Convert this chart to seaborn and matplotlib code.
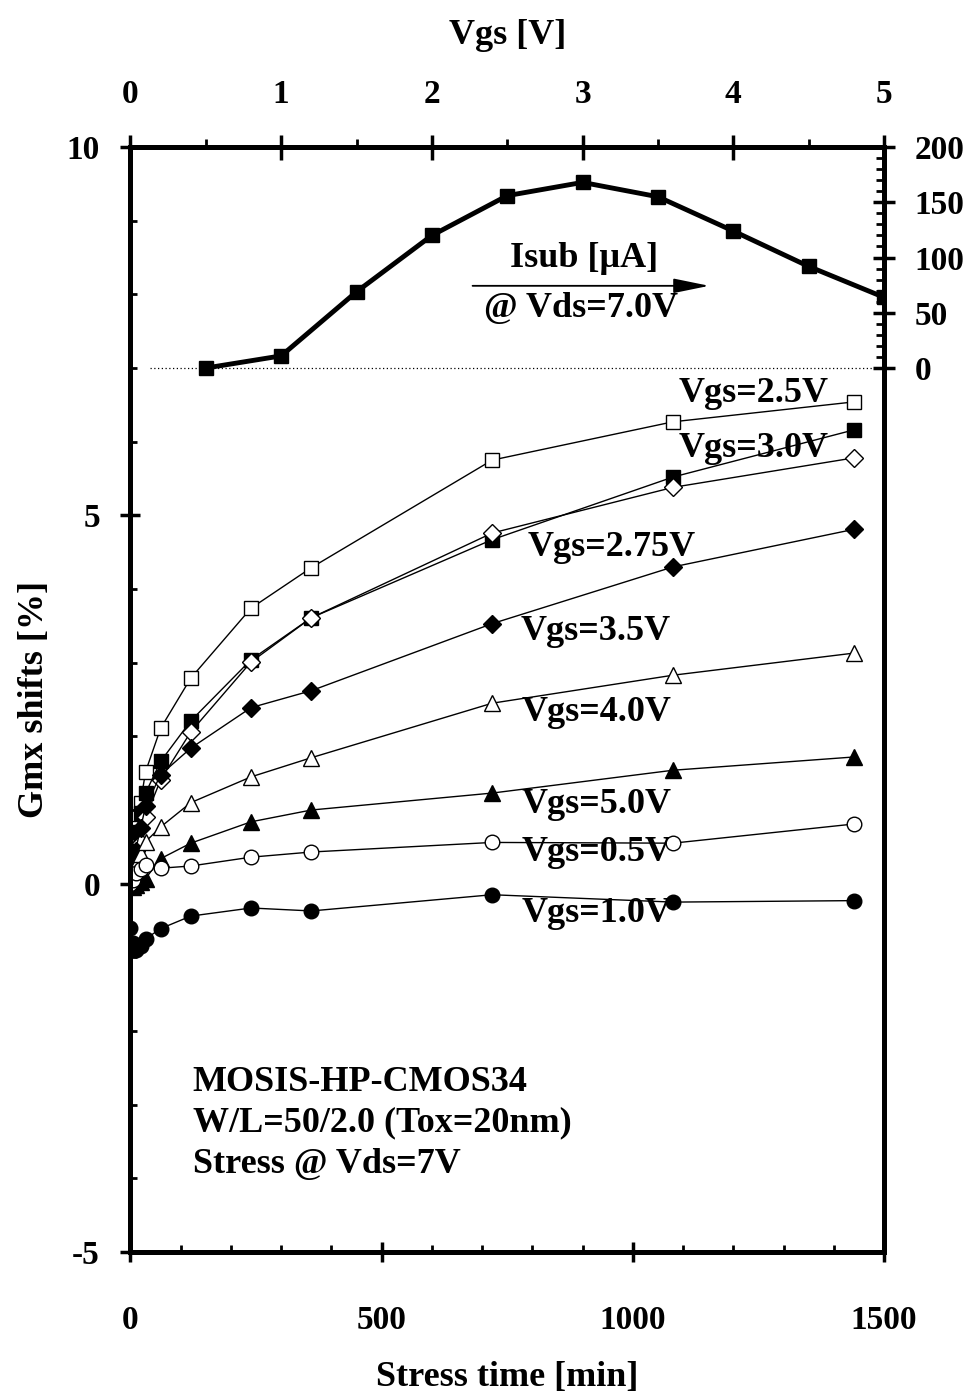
import matplotlib
matplotlib.use("Agg")
import matplotlib.pyplot as plt
from matplotlib.ticker import FixedLocator, MultipleLocator
import seaborn as sns

# ---- data -------------------------------------------------------------
stress_time = [0, 5, 10, 20, 30, 60, 120, 240, 360, 720, 1080, 1440]

gmx_vgs_2p5 = [0.0, 0.45, 0.76, 1.10, 1.52, 2.11, 2.79, 3.74, 4.29, 5.75, 6.27, 6.54]
gmx_vgs_3p0 = [0.0, 0.40, 0.70, 0.96, 1.23, 1.66, 2.21, 3.04, 3.61, 4.67, 5.52, 6.16]
gmx_vgs_2p75 = [0.0, 0.20, 0.35, 0.55, 0.90, 1.41, 2.06, 3.01, 3.61, 4.76, 5.38, 5.78]
gmx_vgs_3p5 = [0.0, 0.25, 0.45, 0.75, 1.05, 1.48, 1.84, 2.39, 2.62, 3.53, 4.30, 4.81]
gmx_vgs_4p0 = [0.0, 0.10, 0.25, 0.40, 0.57, 0.77, 1.10, 1.45, 1.71, 2.45, 2.83, 3.13]
gmx_vgs_5p0 = [0.0, -0.05, -0.02, 0.02, 0.07, 0.34, 0.55, 0.84, 1.00, 1.23, 1.54, 1.72]
gmx_vgs_0p5 = [0.0, 0.05, 0.15, 0.20, 0.25, 0.21, 0.24, 0.36, 0.43, 0.56, 0.55, 0.81]
gmx_vgs_1p0 = [-0.60, -0.80, -0.90, -0.85, -0.75, -0.61, -0.44, -0.33, -0.37, -0.15, -0.25, -0.23]

series_labels = ["Vgs=2.5V", "Vgs=3.0V", "Vgs=2.75V", "Vgs=3.5V",
                 "Vgs=4.0V", "Vgs=5.0V", "Vgs=0.5V", "Vgs=1.0V"]

isub_vgs = [0.5, 1.0, 1.5, 2.0, 2.5, 3.0, 3.5, 4.0, 4.5, 5.0]
isub_ua = [0, 11, 69, 120, 156, 168, 155, 124, 92, 64]

gmx_ticks = [-5, 0, 5, 10]
time_ticks = [0, 500, 1000, 1500]
vgs_ticks = [0, 1, 2, 3, 4, 5]
isub_ticks = [0, 50, 100, 150, 200]

# ---- style ------------------------------------------------------------
sns.set_style("ticks")
plt.rcParams["font.family"] = ["Liberation Serif", "DejaVu Serif"]
plt.rcParams["font.weight"] = "bold"
plt.rcParams["axes.labelweight"] = "bold"
plt.rcParams["axes.unicode_minus"] = False
for key in ["text.color", "axes.labelcolor", "xtick.color", "ytick.color",
            "axes.edgecolor"]:
    plt.rcParams[key] = "black"

fig = plt.figure(figsize=(9.76, 13.95), dpi=100)
ax = fig.add_axes([0.1337, 0.1025, 0.772, 0.7921])

series = [
    (gmx_vgs_2p5, "s", "white", 10),
    (gmx_vgs_3p0, "s", "black", 10),
    (gmx_vgs_2p75, "D", "white", 9),
    (gmx_vgs_3p5, "D", "black", 9),
    (gmx_vgs_4p0, "^", "white", 11),
    (gmx_vgs_5p0, "^", "black", 11),
    (gmx_vgs_0p5, "o", "white", 10.5),
    (gmx_vgs_1p0, "o", "black", 10.5),
]
for vals, mk, fc, ms in series:
    sns.lineplot(x=stress_time, y=vals, ax=ax, color="black", linewidth=1.0,
                 marker=mk, markersize=ms, markerfacecolor=fc,
                 markeredgecolor="black", markeredgewidth=1.0, legend=False,
                 zorder=3)

ax.set_xlim(0, 1500)
ax.set_ylim(-5, 10)
ax.xaxis.set_major_locator(FixedLocator(time_ticks))
ax.xaxis.set_minor_locator(MultipleLocator(100))
ax.yaxis.set_major_locator(FixedLocator(gmx_ticks))
ax.yaxis.set_minor_locator(MultipleLocator(1))
ax.tick_params(which="major", direction="inout", length=14, width=2.5,
               labelsize=24, top=False, right=False)
ax.tick_params(axis="x", which="major", pad=31)
ax.tick_params(axis="y", which="major", pad=15)
ax.tick_params(which="minor", direction="in", length=5, width=2,
               top=False, right=False)
for s in ax.spines.values():
    s.set_linewidth(3.5)

ax.set_xlabel("Stress time [min]", fontsize=26, fontweight="bold")
ax.xaxis.set_label_coords(0.5, -0.114)
ax.xaxis.label.set_va("center")
ax.set_ylabel("Gmx shifts [%]", fontsize=26, fontweight="bold")
ax.yaxis.set_label_coords(-0.127, 0.5)
ax.yaxis.label.set_va("center")

# curve labels
label_pos = [(1241, 6.66), (1241, 5.91), (957, 4.57), (927, 3.42),
             (927, 2.32), (927, 1.07), (927, 0.43), (927, -0.40)]
for txt, (tx, ty) in zip(series_labels, label_pos):
    ax.text(tx, ty, txt, fontsize=26, fontweight="bold", ha="center",
            va="center", zorder=1)

ax.text(124, -3.25, "MOSIS-HP-CMOS34\nW/L=50/2.0 (Tox=20nm)\nStress @ Vds=7V",
        fontsize=26, fontweight="bold", ha="left", va="center",
        linespacing=1.32)

# ---- substrate current on Vgs / Isub axes ----------------------------
ax2 = ax.twinx()
ax2.set_ylim(-800, 200)
ax2.yaxis.set_major_locator(FixedLocator(isub_ticks))
ax2.yaxis.set_minor_locator(FixedLocator(list(range(0, 201, 10))))
ax2.tick_params(axis="y", which="major", direction="inout", length=16,
                width=2.5, labelsize=24, pad=14)
ax2.tick_params(axis="y", which="minor", direction="in", length=6, width=2)
for s in ax2.spines.values():
    s.set_linewidth(3.5)

ax3 = ax2.twiny()
ax3.set_xlim(0, 5)
ax3.xaxis.set_major_locator(FixedLocator(vgs_ticks))
ax3.xaxis.set_minor_locator(MultipleLocator(0.5))
ax3.tick_params(axis="x", which="major", direction="inout", length=18,
                width=2.5, labelsize=24, pad=18)
ax3.tick_params(axis="x", which="minor", direction="out", length=6, width=2)
for s in ax3.spines.values():
    s.set_linewidth(3.5)
ax3.set_xlabel("Vgs [V]", fontsize=26, fontweight="bold")
ax3.xaxis.set_label_coords(0.5, 1.101)
ax3.xaxis.label.set_va("center")

sns.lineplot(x=isub_vgs, y=isub_ua, ax=ax3, color="black", linewidth=3.5,
             marker="s", markersize=9.5, markerfacecolor="black",
             markeredgecolor="black", markeredgewidth=1.0, legend=False)

ax3.plot([0.13, 5.0], [0, 0], color="black", linewidth=0.9,
         linestyle=(0, (1, 2)), zorder=1)

ax3.text(3.01, 98.7, "Isub [\u03bcA]", fontsize=26, fontweight="bold",
         ha="center", va="center")
ax3.text(2.99, 53.8, "@ Vds=7.0V", fontsize=26, fontweight="bold",
         ha="center", va="center")
ax3.annotate("", xy=(3.84, 74.4), xytext=(2.27, 74.4),
             arrowprops=dict(arrowstyle="-|>,head_length=2.2,head_width=0.45",
                             color="black", lw=1.3, shrinkA=0, shrinkB=0))

fig.savefig("out.png", dpi=100, facecolor="white")
